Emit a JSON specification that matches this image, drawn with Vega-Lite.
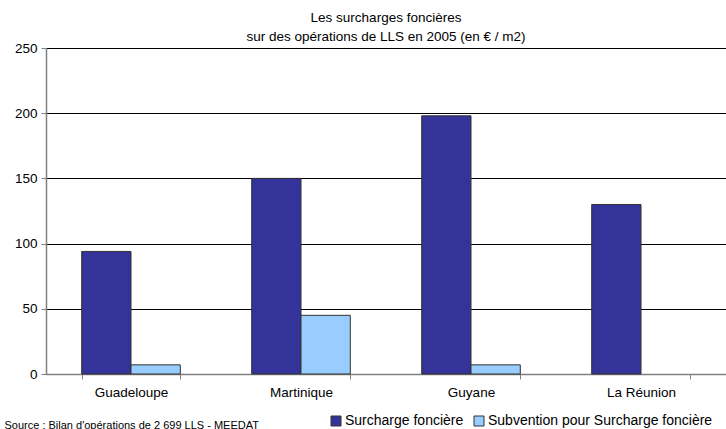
{
  "$schema": "https://vega.github.io/schema/vega-lite/v6.json",
  "autosize": "none",
  "width": 680,
  "height": 326,
  "padding": {"left": 46, "top": 48, "right": 0, "bottom": 55},
  "background": "white",
  "title": {
    "text": ["Les surcharges foncières", "sur des opérations de LLS en 2005 (en € / m2)"],
    "anchor": "middle",
    "fontSize": 13.5,
    "fontWeight": "normal",
    "font": "Liberation Sans",
    "color": "black",
    "lineHeight": 19,
    "offset": -2
  },
  "data": {
    "values": [
      {"region": "Guadeloupe", "serie": "Surcharge foncière", "valeur": 94},
      {"region": "Guadeloupe", "serie": "Subvention pour Surcharge foncière", "valeur": 7},
      {"region": "Martinique", "serie": "Surcharge foncière", "valeur": 150},
      {"region": "Martinique", "serie": "Subvention pour Surcharge foncière", "valeur": 45},
      {"region": "Guyane", "serie": "Surcharge foncière", "valeur": 198},
      {"region": "Guyane", "serie": "Subvention pour Surcharge foncière", "valeur": 7},
      {"region": "La Réunion", "serie": "Surcharge foncière", "valeur": 130}
    ]
  },
  "mark": {"type": "bar", "stroke": "#333333", "strokeWidth": 1},
  "encoding": {
    "x": {
      "field": "region",
      "type": "nominal",
      "sort": ["Guadeloupe", "Martinique", "Guyane", "La Réunion"],
      "scale": {"paddingInner": 0.42, "paddingOuter": 0.21},
      "axis": {
        "title": "Source : Bilan d'opérations de 2 699 LLS - MEEDAT",
        "titleX": -42,
        "titleY": 51,
        "titleAnchor": "start",
        "titleAlign": "left",
        "titleBaseline": "middle",
        "titleFontSize": 11,
        "titleFontWeight": "normal",
        "titleFont": "Liberation Sans",
        "titleColor": "black",
        "labelAngle": 0,
        "labelFontSize": 13.5,
        "labelFont": "Liberation Sans",
        "labelColor": "black",
        "labelPadding": 6,
        "tickBand": "extent",
        "tickColor": "#808080",
        "tickSize": 5,
        "domainColor": "#808080",
        "domainWidth": 1.5,
        "grid": false
      }
    },
    "xOffset": {
      "field": "serie",
      "type": "nominal",
      "sort": ["Surcharge foncière", "Subvention pour Surcharge foncière"]
    },
    "y": {
      "field": "valeur",
      "type": "quantitative",
      "scale": {"domain": [0, 250], "nice": false},
      "axis": {
        "title": null,
        "values": [0, 50, 100, 150, 200, 250],
        "labelFontSize": 13.5,
        "labelFont": "Liberation Sans",
        "labelColor": "black",
        "labelPadding": 4,
        "tickColor": "#808080",
        "tickSize": 5,
        "domainColor": "#808080",
        "domainWidth": 1.5,
        "grid": true,
        "gridColor": "black",
        "gridOpacity": 1,
        "gridWidth": 1
      }
    },
    "color": {
      "field": "serie",
      "type": "nominal",
      "sort": ["Surcharge foncière", "Subvention pour Surcharge foncière"],
      "scale": {"range": ["#333399", "#99CCFF"]},
      "legend": {
        "title": null,
        "orient": "none",
        "direction": "horizontal",
        "legendX": 283,
        "legendY": 366,
        "symbolType": "square",
        "symbolSize": 100,
        "symbolStrokeColor": "#333333",
        "symbolStrokeWidth": 1,
        "labelFontSize": 14,
        "labelFont": "Liberation Sans",
        "labelColor": "black",
        "labelOffset": 2,
        "labelLimit": 400,
        "columnPadding": 8
      }
    }
  },
  "config": {"view": {"stroke": null}}
}
